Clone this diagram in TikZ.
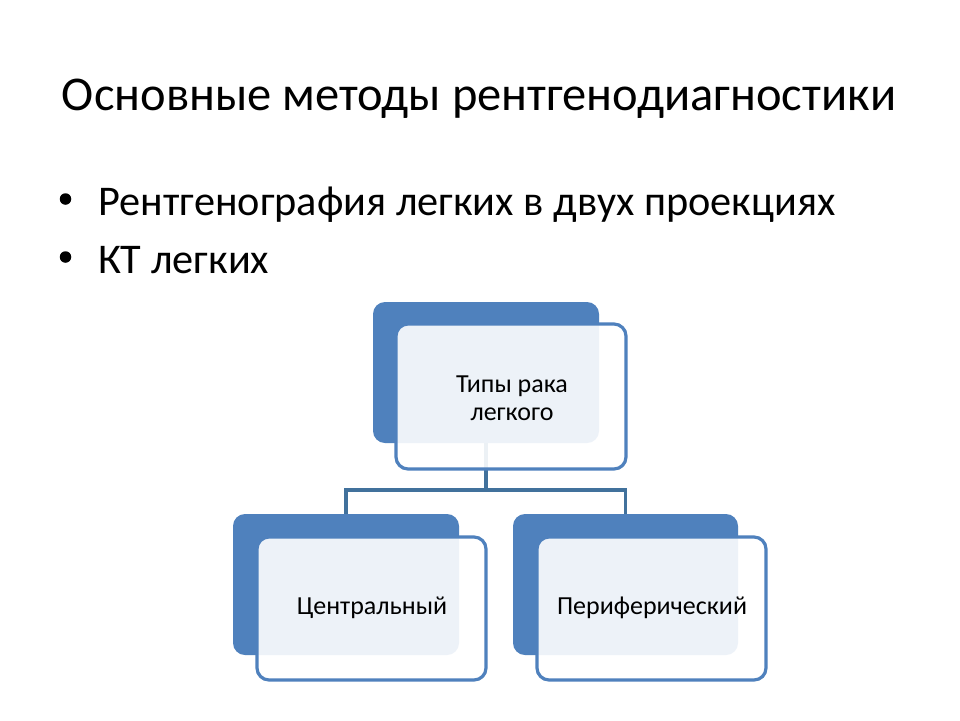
\documentclass[tikz,border=0pt]{standalone}
\usepackage{fontspec}
\setmainfont{Carlito}
\definecolor{accent}{HTML}{4F81BD}
\definecolor{linkc}{HTML}{41719C}
\begin{document}
\begin{tikzpicture}[x=1pt,y=-1pt,
  backbox/.style={fill=accent, draw=none, rounded corners=12pt},
  frontbox/.style={fill=white, fill opacity=0.9, text opacity=1, draw=accent, line width=3.2pt, rounded corners=12pt},
  lbl/.style={font=\fontsize{26}{28}\selectfont, align=center, text=black},
  link/.style={draw=linkc, line width=3.2pt},
  bul/.style={anchor=base west, font=\fontsize{42.3}{46}\selectfont},
  dot/.style={circle, fill=black, inner sep=0pt, minimum size=11.5pt}]
\useasboundingbox (0,0) rectangle (960,720);
\fill[white] (0,0) rectangle (960,720);
% title and bullets
\node[anchor=base, font=\fontsize{48.5}{54}\selectfont] (title) at (479,110) {Основные методы рентгенодиагностики};
\node[bul] (b1) at (95,215) {Рентгенография легких в двух проекциях};
\node[bul] (b2) at (95,273) {КТ легких};
\node[dot] (d1) at (65.5,199) {};
\node[dot] (d2) at (65.5,257) {};
% back boxes
\path[backbox] (373,302) rectangle (599,443);
\path[backbox] (233,514) rectangle (459,655);
\path[backbox] (513,514) rectangle (738,655);
\coordinate (topb) at (486,443);
\coordinate (lb) at (346,514);
\coordinate (rb) at (625.5,514);
% connectors
\draw[link] (topb) -- (486,490) -| (lb);
\draw[link] (486,490) -| (rb);
% front boxes
\path[frontbox] (396,324) rectangle (626,469);
\path[frontbox] (257,537) rectangle (486,680);
\path[frontbox] (537,537) rectangle (766,680);
\node[lbl] (t0) at (512,398) {Типы рака\\легкого};
\node[lbl] (t1) at (372,608) {Центральный};
\node[lbl] (t2) at (652,608) {Периферический};
\end{tikzpicture}
\end{document}
